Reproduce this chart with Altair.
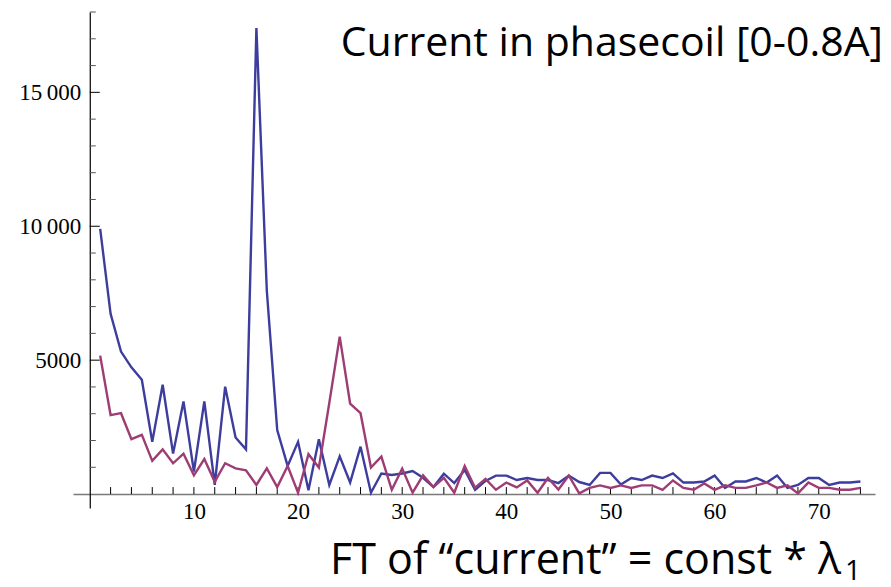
import altair as alt
import pandas as pd

# Fourier spectrum of the phase-coil current, two acquisitions
freq = list(range(1, 75))
amp_blue = [9900, 6730, 5320, 4730, 4270, 1950, 4080, 1510, 3460, 840,
            3460, 340, 4010, 2110, 1670, 17400, 7600, 2390, 1050, 1950,
            140, 2050, 340, 1410, 430, 1770, 50, 770, 710, 770,
            860, 610, 260, 760, 410, 900, 160, 490, 690, 690,
            525, 600, 525, 525, 410, 690, 450, 340, 790, 790,
            360, 600, 525, 690, 600, 770, 430, 430, 470, 690,
            230, 470, 470, 600, 430, 690, 230, 340, 600, 600,
            340, 430, 430, 470]
amp_purple = [5170, 2950, 3020, 2050, 2210, 1240, 1670, 1150, 1510, 700,
              1310, 460, 1150, 960, 890, 340, 960, 260, 1050, 50,
              1490, 990, 3400, 5880, 3380, 3020, 990, 1400, 160, 950,
              50, 700, 260, 610, 50, 1050, 240, 570, 160, 430,
              250, 510, 50, 600, 170, 690, 25, 230, 325, 230,
              325, 230, 325, 325, 160, 510, 230, 160, 400, 160,
              325, 230, 230, 325, 430, 230, 325, 25, 430, 230,
              230, 160, 160, 230]
series = ["run 1", "run 2"]
series_colors = ["#3d3d9e", "#9e3d73"]

x_labels = [10, 20, 30, 40, 50, 60, 70]
x_ticks = list(range(2, 75, 2))
y_labels = [5000, 10000, 15000]
y_minor = [1000, 2000, 3000, 4000, 6000, 7000, 8000, 9000,
           11000, 12000, 13000, 14000, 16000, 17000, 18000]

title_top = ["Current in phasecoil [0-0.8A]"]
title_bottom = ["FT of \u201ccurrent\u201d = const * \u03bb"]
title_sub = ["1"]

W, H = 802, 496
X_DOM = [-1.61, 75.4]
Y_DOM = [-520, 18000]
x_off = -(0 - X_DOM[0]) / (X_DOM[1] - X_DOM[0]) * W
y_off = -(0 - Y_DOM[0]) / (Y_DOM[1] - Y_DOM[0]) * H

df = pd.DataFrame({
    "k": freq * 2,
    "amp": amp_blue + amp_purple,
    "run": [series[0]] * len(freq) + [series[1]] * len(freq),
})

xs = alt.Scale(domain=X_DOM, nice=False, zero=False)
ys = alt.Scale(domain=Y_DOM, nice=False, zero=False)

lines = alt.Chart(df).mark_line(strokeWidth=2.4).encode(
    x=alt.X("k:Q", scale=xs, axis=alt.Axis(
        values=x_labels, ticks=False, grid=False, title=None,
        domainColor="#7a7a7a", domainWidth=1.6, offset=y_off,
        labelFont="Liberation Serif", labelFontSize=23, labelColor="black",
        labelPadding=6, labelFlush=False)),
    y=alt.Y("amp:Q", scale=ys, axis=alt.Axis(
        values=y_labels, ticks=False, grid=False, title=None,
        domainColor="black", domainWidth=1.2, offset=x_off,
        labelFont="Liberation Serif", labelFontSize=23, labelColor="black",
        labelPadding=9, labelFlush=False,
        labelExpr="datum.value >= 10000 ? format(datum.value / 1000, 'd') + '\u2009000' : format(datum.value, 'd')")),
    color=alt.Color("run:N", scale=alt.Scale(domain=series, range=series_colors), legend=None),
    order=alt.Order("run:N"),
)

xt = alt.Chart(pd.DataFrame({"t": x_ticks})).mark_rule(
    color="black", strokeWidth=1, y2Offset=-7
).encode(x=alt.X("t:Q", scale=xs), y=alt.datum(0), y2=alt.datum(0))

yt_major = alt.Chart(pd.DataFrame({"t": y_labels})).mark_rule(
    color="black", strokeWidth=1, x2Offset=10
).encode(y=alt.Y("t:Q", scale=ys), x=alt.datum(0), x2=alt.datum(0))

yt_minor = alt.Chart(pd.DataFrame({"t": y_minor})).mark_rule(
    color="#555555", strokeWidth=1, x2Offset=6
).encode(y=alt.Y("t:Q", scale=ys), x=alt.datum(0), x2=alt.datum(0))

top_text = alt.Chart(pd.DataFrame({"s": title_top})).mark_text(
    font="Open Sans", fontSize=41, align="right", baseline="alphabetic", color="black"
).encode(text="s:N", x=alt.value(810), y=alt.value(44))

bottom_text = alt.Chart(pd.DataFrame({"s": title_bottom})).mark_text(
    font="Open Sans", fontSize=43, align="left", baseline="alphabetic", color="black"
).encode(text="s:N", x=alt.value(257), y=alt.value(562))

sub_text = alt.Chart(pd.DataFrame({"s": title_sub})).mark_text(
    font="Open Sans", fontSize=28, align="left", baseline="alphabetic", color="black"
).encode(text="s:N", x=alt.value(772), y=alt.value(568))

chart = alt.layer(
    xt, yt_minor, yt_major, lines, top_text, bottom_text, sub_text
).properties(
    width=W, height=H,
    autosize=alt.AutoSizeParams(type="none"),
    padding={"left": 73, "top": 12, "right": 16, "bottom": 79},
    background="white",
).configure_view(stroke=None)

chart.save("out.html", embed_options={"renderer": "svg", "actions": False})
